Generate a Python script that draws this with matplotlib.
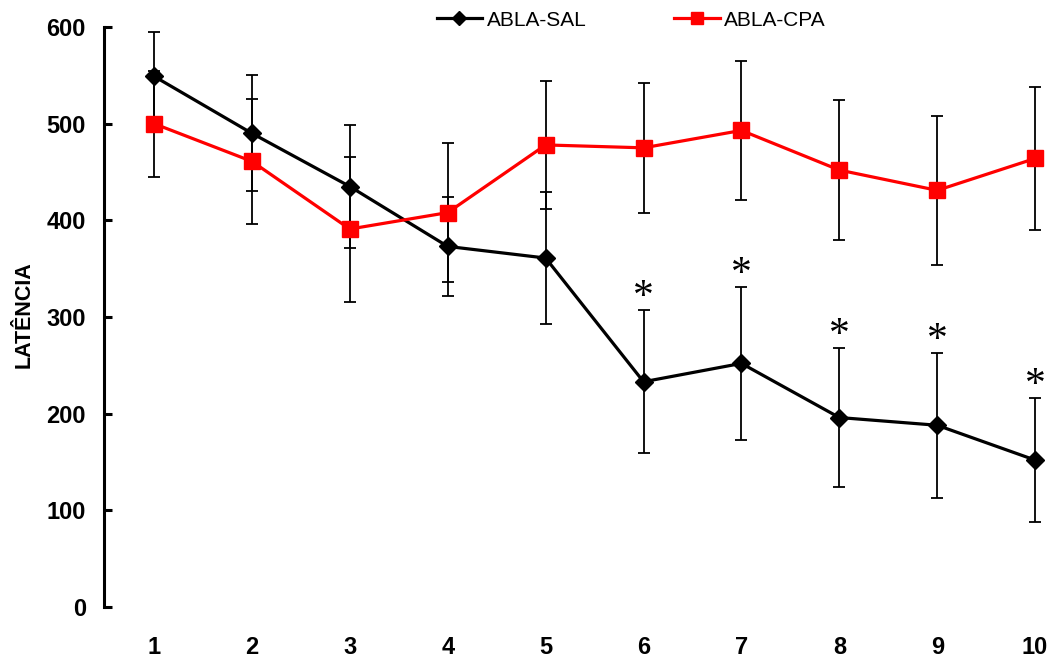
import matplotlib
matplotlib.use("Agg")
import matplotlib.pyplot as plt
from matplotlib.lines import Line2D

sessions = [1, 2, 3, 4, 5, 6, 7, 8, 9, 10]
sal_mean = [549, 490, 435, 373, 361, 233, 252, 196, 188, 152]
sal_err = [46, 60, 64, 51, 68, 74, 79, 72, 75, 64]
cpa_mean = [500, 461, 391, 408, 478, 475, 493, 452, 431, 464]
cpa_err = [55, 65, 75, 72, 66, 67, 72, 72, 77, 74]
signif = [False, False, False, False, False, True, True, True, True, True]
yticks = [0, 100, 200, 300, 400, 500, 600]
labels = ["ABLA-SAL", "ABLA-CPA"]

W, H = 1053, 659
fig = plt.figure(figsize=(W / 100, H / 100), dpi=100)
L, R, B, T = 104, 1045, 607, 27
ax = fig.add_axes([L / W, (H - B) / H, (R - L) / W, (B - T) / H])

# error bars (black for both series)
ax.errorbar(sessions, sal_mean, yerr=sal_err, fmt='none', ecolor='black',
            elinewidth=1.3, capsize=4.3, capthick=1.3, zorder=2)
ax.errorbar(sessions, cpa_mean, yerr=cpa_err, fmt='none', ecolor='black',
            elinewidth=1.3, capsize=4.3, capthick=1.3, zorder=2)

ax.plot(sessions, sal_mean, color='black', lw=2.3, marker='D', ms=9,
        mfc='black', mec='black', zorder=3)
ax.plot(sessions, cpa_mean, color='#ff0000', lw=2.3, marker='s', ms=12,
        mfc='#ff0000', mec='#ff0000', zorder=3)

for x, m, e, s in zip(sessions, sal_mean, sal_err, signif):
    if s:
        ax.text(x, m + e + 2, "*", ha='center', va='baseline', fontsize=30,
                family='Liberation Serif', color='black')

ax.set_xlim(0.489, 10.101)
ax.set_ylim(0, 600)
ax.set_yticks(yticks)
ax.set_xticks(sessions)

for s in ['top', 'right', 'bottom']:
    ax.spines[s].set_visible(False)
ax.spines['left'].set_linewidth(2.2)
ax.tick_params(axis='y', direction='in', length=6, width=2.2, pad=13)
ax.tick_params(axis='x', length=0, pad=21)
for lab in ax.get_xticklabels() + ax.get_yticklabels():
    lab.set_fontfamily('Liberation Sans')
    lab.set_fontweight('bold')
    lab.set_fontsize(17)

fig.text(24 / W, 1 - 315 / H, "LATÊNCIA", rotation=90, ha='center', va='center',
         fontsize=15.5, fontweight='bold', family='Liberation Sans')

handles = [
    Line2D([], [], color='black', lw=2.3, marker='D', ms=7),
    Line2D([], [], color='#ff0000', lw=2.3, marker='s', ms=9),
]
fig.legend(handles, labels, loc='center', bbox_to_anchor=(631 / W, 1 - 20 / H),
           ncol=2, frameon=False, prop={'family': 'Liberation Sans', 'size': 15},
           handlelength=2.2, handletextpad=0.2, columnspacing=4.2)

fig.savefig("out.png", dpi=100)
